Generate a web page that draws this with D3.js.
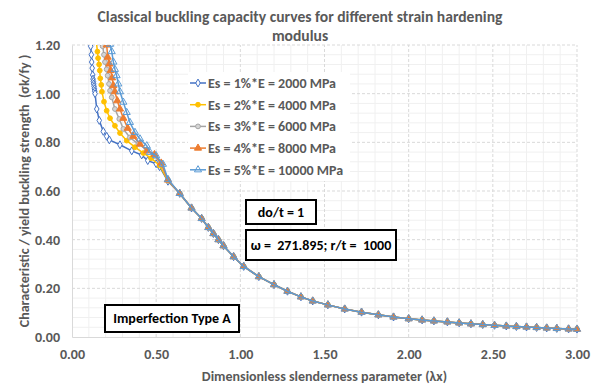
<!DOCTYPE html>
<html>
<head>
<meta charset="utf-8">
<script src="https://cdn.jsdelivr.net/npm/d3@7"></script>
<style>
  html, body { margin: 0; padding: 0; background: #fff; }
  svg { display: block; }
  text { font-family: Carlito, "Liberation Sans Narrow", "Liberation Sans", sans-serif; font-weight: bold; white-space: pre; }
</style>
</head>
<body>
<svg id="chart" width="602" height="384"></svg>
<script>
// ---- data ----
const seriesNames = [
  "Es = 1%*E = 2000 MPa",
  "Es = 2%*E = 4000 MPa",
  "Es = 3%*E = 6000 MPa",
  "Es = 4%*E = 8000 MPa",
  "Es = 5%*E = 10000 MPa"
];

// low-slenderness branch of each curve (lambda_x, sigma_k/fy)
const es1Lambda = [0.108, 0.111, 0.115, 0.117, 0.120, 0.123, 0.125, 0.127, 0.129, 0.131, 0.133, 0.135, 0.137, 0.147, 0.162, 0.186, 0.206, 0.222, 0.285, 0.355, 0.414, 0.450, 0.500, 0.520, 0.570];
const es1Sigma  = [1.250, 1.195, 1.160, 1.130, 1.105, 1.077, 1.060, 1.050, 1.040, 1.030, 1.020, 1.010, 1.000, 0.937, 0.890, 0.845, 0.825, 0.810, 0.790, 0.765, 0.748, 0.725, 0.712, 0.700, 0.640];

const es2Lambda = [0.142, 0.151, 0.155, 0.161, 0.165, 0.168, 0.174, 0.178, 0.190, 0.206, 0.226, 0.255, 0.285, 0.325, 0.374, 0.424, 0.470, 0.520, 0.570];
const es2Sigma  = [1.230, 1.173, 1.146, 1.120, 1.095, 1.063, 1.036, 1.008, 0.967, 0.930, 0.899, 0.868, 0.838, 0.807, 0.780, 0.756, 0.735, 0.705, 0.643];

const es3Lambda = [0.176, 0.182, 0.190, 0.196, 0.206, 0.212, 0.220, 0.226, 0.236, 0.255, 0.281, 0.305, 0.344, 0.394, 0.444, 0.490, 0.530, 0.570];
const es3Sigma  = [1.240, 1.195, 1.160, 1.130, 1.100, 1.074, 1.040, 1.012, 0.985, 0.937, 0.896, 0.855, 0.820, 0.793, 0.770, 0.745, 0.710, 0.645];

const es4Lambda = [0.203, 0.206, 0.212, 0.222, 0.230, 0.238, 0.246, 0.255, 0.269, 0.285, 0.305, 0.331, 0.364, 0.404, 0.447, 0.490, 0.530, 0.570];
const es4Sigma  = [1.230, 1.200, 1.150, 1.122, 1.095, 1.065, 1.033, 1.008, 0.971, 0.937, 0.899, 0.858, 0.825, 0.793, 0.765, 0.750, 0.715, 0.645];

const es5Lambda = [0.226, 0.236, 0.246, 0.255, 0.265, 0.275, 0.285, 0.305, 0.325, 0.344, 0.374, 0.404, 0.444, 0.463, 0.500, 0.540, 0.570];
const es5Sigma  = [1.203, 1.173, 1.130, 1.100, 1.074, 1.040, 1.008, 0.965, 0.923, 0.882, 0.841, 0.814, 0.786, 0.759, 0.745, 0.710, 0.648];

// common elastic branch shared by all curves
const tailLambda = [0.64, 0.71, 0.77, 0.81, 0.84, 0.87, 0.90, 0.96, 1.02, 1.11, 1.20, 1.28, 1.36, 1.43, 1.52, 1.62, 1.72, 1.82, 1.91, 2.00, 2.08, 2.15, 2.23, 2.30, 2.37, 2.44, 2.51, 2.58, 2.64, 2.70, 2.76, 2.82, 2.88, 2.95, 3.00];
const tailSigma  = [0.590, 0.530, 0.487, 0.450, 0.425, 0.400, 0.375, 0.330, 0.290, 0.248, 0.215, 0.188, 0.165, 0.148, 0.132, 0.115, 0.102, 0.091, 0.082, 0.075, 0.070, 0.066, 0.062, 0.058, 0.054, 0.051, 0.048, 0.045, 0.043, 0.041, 0.039, 0.037, 0.035, 0.033, 0.032];

const xTicks = [0, 0.5, 1.0, 1.5, 2.0, 2.5, 3.0];
const yTicks = [0, 0.2, 0.4, 0.6, 0.8, 1.0, 1.2];

const titleLines = ["Classical buckling capacity curves for different strain hardening", "modulus"];
const xTitle = "Dimensionless slenderness parameter (λx)";
const yTitle = "Characteristic / yield buckling strength  (σk/fy )";
const noteTexts = ["do/t = 1", "ω =  271.895; r/t =  1000", "Imperfection Type A"];

// ---- styling ----
const colors = ["#4472C4", "#FFC000", "#A5A5A5", "#ED7D31", "#5B9BD5"];
const markerFill = ["#ffffff", "#FFC000", "#D5D5D5", "#ED7D31", "none"];
const markerType = [d3.symbolDiamond, d3.symbolCircle, d3.symbolCircle, d3.symbolTriangle, d3.symbolTriangle];
const markerSize = [18, 18, 18, 22, 22];
const textGray = "#595959";

const heads = [[es1Lambda, es1Sigma], [es2Lambda, es2Sigma], [es3Lambda, es3Sigma], [es4Lambda, es4Sigma], [es5Lambda, es5Sigma]];
const series = heads.map(([lx, sg], i) => ({
  name: seriesNames[i],
  points: lx.map((l, k) => ({ x: l, y: sg[k] }))
    .concat(tailLambda.map((l, k) => ({ x: l, y: tailSigma[k] })))
}));

// ---- layout ----
const svg = d3.select("#chart");
const x = d3.scaleLinear().domain([0, 3]).range([72, 577]);
const y = d3.scaleLinear().domain([0, 1.2]).range([337, 45]);

svg.append("defs").append("clipPath").attr("id", "plotClip")
  .append("rect").attr("x", x(0) - 6).attr("y", y(1.2)).attr("width", x(3) - x(0) + 12).attr("height", y(0) - y(1.2) + 6);

// minor gridlines
const grid = svg.append("g");
grid.selectAll(".vminor").data(d3.range(1, 30).map(i => i / 10).filter(v => Math.abs(v * 2 - Math.round(v * 2)) > 1e-6))
  .join("line").attr("x1", d => x(d)).attr("x2", d => x(d)).attr("y1", y(0)).attr("y2", y(1.2))
  .attr("stroke", "#F0F0F0").attr("stroke-width", 1);
grid.selectAll(".hminor").data(d3.range(1, 30).map(i => i * 0.04).filter(v => Math.abs(v * 5 - Math.round(v * 5)) > 1e-6))
  .join("line").attr("x1", x(0)).attr("x2", x(3)).attr("y1", d => y(d)).attr("y2", d => y(d))
  .attr("stroke", "#F0F0F0").attr("stroke-width", 1);
// major gridlines (dashed)
grid.selectAll(".vmajor").data(xTicks.slice(1))
  .join("line").attr("x1", d => x(d)).attr("x2", d => x(d)).attr("y1", y(0)).attr("y2", y(1.2))
  .attr("stroke", "#D9D9D9").attr("stroke-width", 1).attr("stroke-dasharray", "3,2");
grid.selectAll(".hmajor").data(yTicks.slice(1))
  .join("line").attr("x1", x(0)).attr("x2", x(3)).attr("y1", d => y(d)).attr("y2", d => y(d))
  .attr("stroke", "#D9D9D9").attr("stroke-width", 1).attr("stroke-dasharray", "3,2");

// axes
const xAxis = svg.append("g").attr("transform", `translate(0,${y(0)})`)
  .call(d3.axisBottom(x).tickValues(xTicks).tickFormat(d3.format(".2f")).tickSize(0).tickPadding(12));
const yAxis = svg.append("g").attr("transform", `translate(${x(0)},0)`)
  .call(d3.axisLeft(y).tickValues(yTicks).tickFormat(d3.format(".2f")).tickSize(0).tickPadding(12));
[xAxis, yAxis].forEach(a => {
  a.select(".domain").attr("stroke", "#D9D9D9").attr("stroke-width", 1);
  a.selectAll("text").attr("fill", textGray).attr("font-size", 14);
});

// series
const plot = svg.append("g").attr("clip-path", "url(#plotClip)");
const line = d3.line().x(d => x(d.x)).y(d => y(d.y));
series.forEach((s, i) => {
  const g = plot.append("g");
  g.append("path").attr("d", line(s.points)).attr("fill", "none")
    .attr("stroke", colors[i]).attr("stroke-width", 1.5).attr("stroke-linejoin", "round");
  g.selectAll("path.m").data(s.points).join("path").attr("class", "m")
    .attr("transform", d => `translate(${x(d.x)},${y(d.y)})`)
    .attr("d", d3.symbol().type(markerType[i]).size(markerSize[i]))
    .attr("fill", markerFill[i]).attr("stroke", colors[i]).attr("stroke-width", 1);
});

// legend
const legend = svg.append("g");
legend.append("rect").attr("x", 188).attr("y", 72).attr("width", 162).attr("height", 109).attr("fill", "#fff");
series.forEach((s, i) => {
  const ly = 83 + i * 21.7;
  legend.append("line").attr("x1", 190).attr("x2", 206).attr("y1", ly).attr("y2", ly)
    .attr("stroke", colors[i]).attr("stroke-width", 1.5);
  legend.append("path").attr("transform", `translate(198,${ly})`)
    .attr("d", d3.symbol().type(markerType[i]).size(markerSize[i]))
    .attr("fill", markerFill[i]).attr("stroke", colors[i]).attr("stroke-width", 1);
  legend.append("text").attr("x", 208).attr("y", ly).attr("dy", "0.35em")
    .attr("font-size", 14).attr("fill", textGray).text(s.name);
});

// annotation boxes
const notes = [
  { x: 246, y: 200, w: 70, h: 24, t: noteTexts[0] },
  { x: 246, y: 230, w: 150, h: 30, t: noteTexts[1] },
  { x: 105, y: 305, w: 134, h: 27, t: noteTexts[2] }
];
notes.forEach(n => {
  svg.append("rect").attr("x", n.x).attr("y", n.y).attr("width", n.w).attr("height", n.h)
    .attr("fill", "#fff").attr("stroke", "#000").attr("stroke-width", 2);
  svg.append("text").attr("x", n.x + n.w / 2).attr("y", n.y + n.h / 2).attr("dy", "0.35em")
    .attr("text-anchor", "middle").attr("font-size", 14).attr("fill", "#000").text(n.t);
});

// titles
svg.append("g").selectAll("text").data(titleLines).join("text")
  .attr("x", 300).attr("y", (d, i) => 22 + i * 19).attr("text-anchor", "middle")
  .attr("font-size", 15.6).attr("fill", textGray).text(d => d);
svg.append("text").attr("x", (x(0) + x(3)) / 2).attr("y", 381).attr("text-anchor", "middle")
  .attr("font-size", 14).attr("fill", textGray).text(xTitle);
svg.append("text").attr("transform", `translate(29,${(y(0) + y(1.2)) / 2}) rotate(-90)`)
  .attr("text-anchor", "middle").attr("font-size", 14).attr("fill", textGray).text(yTitle);
</script>
</body>
</html>
